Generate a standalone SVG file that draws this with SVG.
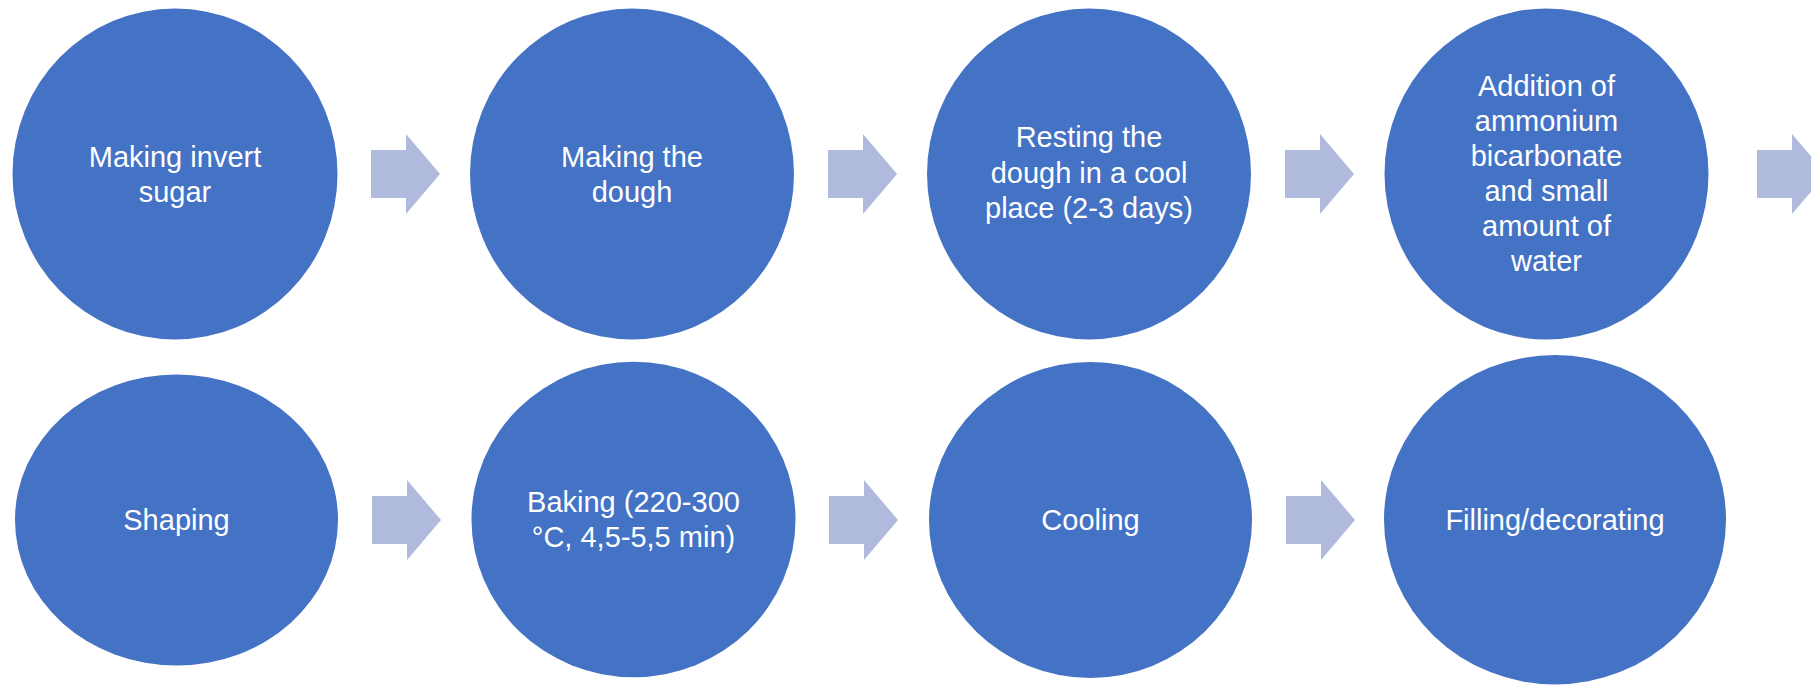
<svg xmlns="http://www.w3.org/2000/svg" width="1811" height="685" viewBox="0 0 1811 685">
  <style>
    .step { fill: #4472C4; }
    .arrow { fill: #B0BADD; }
    .label { font-family: "Liberation Sans", Arial, sans-serif; font-size: 29px; fill: #FFFFFF; text-anchor: middle; }
  </style>
  <defs>
    <!-- block arrow: shaft 35 long, head 34 long; origin at shaft left, vertical centre -->
    <path id="blockArrow" d="M0,-24 H35 V-40 L69,0 L35,40 V24 H0 Z"/>
  </defs>

  <rect width="1811" height="685" fill="#FFFFFF"/>

  <g id="connectors">
    <use href="#blockArrow" class="arrow" x="371" y="174"/>
    <use href="#blockArrow" class="arrow" x="828" y="174"/>
    <use href="#blockArrow" class="arrow" x="1285" y="174"/>
    <use href="#blockArrow" class="arrow" x="1757" y="174"/>
    <use href="#blockArrow" class="arrow" x="372" y="520"/>
    <use href="#blockArrow" class="arrow" x="829" y="520"/>
    <use href="#blockArrow" class="arrow" x="1286" y="520"/>
  </g>

  <g id="step-invert-sugar">
    <ellipse class="step" cx="175" cy="174" rx="162.5" ry="165.5"/>
    <text class="label" x="175" y="166.5">Making invert</text>
    <text class="label" x="175" y="201.5">sugar</text>
  </g>

  <g id="step-dough">
    <ellipse class="step" cx="632" cy="174" rx="162" ry="165.5"/>
    <text class="label" x="632" y="166.5">Making the</text>
    <text class="label" x="632" y="201.5">dough</text>
  </g>

  <g id="step-resting">
    <ellipse class="step" cx="1089" cy="174" rx="162" ry="165.5"/>
    <text class="label" x="1089" y="147">Resting the</text>
    <text class="label" x="1089" y="182.5">dough in a cool</text>
    <text class="label" x="1089" y="218">place (2-3 days)</text>
  </g>

  <g id="step-ammonium">
    <ellipse class="step" cx="1546.5" cy="174" rx="162" ry="165.5"/>
    <text class="label" x="1546.5" y="95.5">Addition of</text>
    <text class="label" x="1546.5" y="130.5">ammonium</text>
    <text class="label" x="1546.5" y="165.5">bicarbonate</text>
    <text class="label" x="1546.5" y="200.5">and small</text>
    <text class="label" x="1546.5" y="235.5">amount of</text>
    <text class="label" x="1546.5" y="270.5">water</text>
  </g>

  <g id="step-shaping">
    <ellipse class="step" cx="176.5" cy="520" rx="161.5" ry="145.5"/>
    <text class="label" x="176.5" y="529.5">Shaping</text>
  </g>

  <g id="step-baking">
    <ellipse class="step" cx="633.5" cy="519.5" rx="162" ry="157.7"/>
    <text class="label" x="633.5" y="512">Baking (220-300</text>
    <text class="label" x="633.5" y="547">°C, 4,5-5,5 min)</text>
  </g>

  <g id="step-cooling">
    <ellipse class="step" cx="1090.5" cy="520" rx="161.5" ry="158"/>
    <text class="label" x="1090.5" y="529.5">Cooling</text>
  </g>

  <g id="step-filling">
    <ellipse class="step" cx="1555" cy="519.7" rx="171" ry="164.7"/>
    <text class="label" x="1555" y="529.5">Filling/decorating</text>
  </g>
</svg>
